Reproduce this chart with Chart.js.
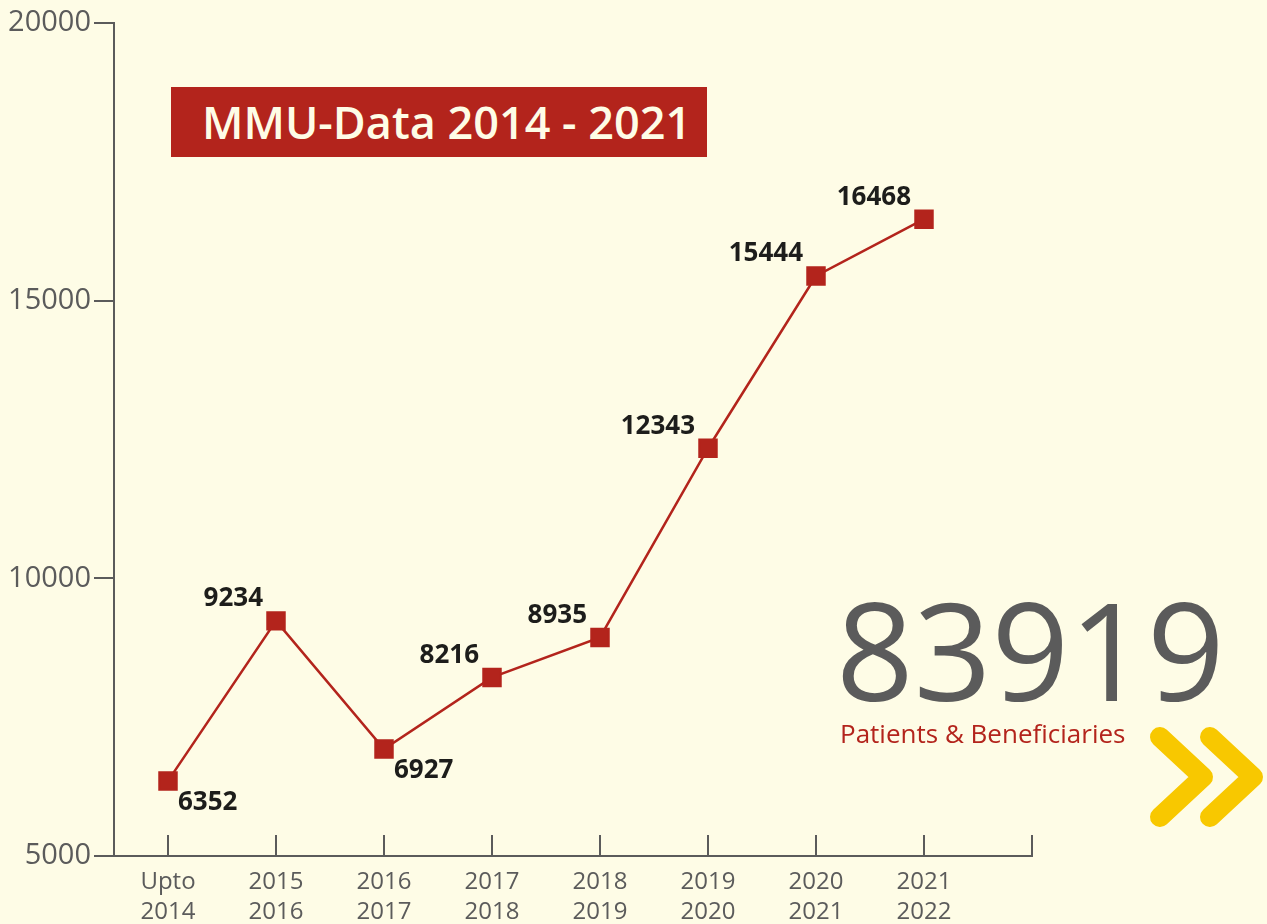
<!DOCTYPE html>
<html>
<head>
<meta charset="utf-8">
<script src="https://cdn.jsdelivr.net/npm/chart.js@4.4.0/dist/chart.umd.min.js"></script>
<style>
  body { margin: 0; background: #fefce6; }
  #wrap { position: relative; width: 1267px; height: 924px; background: #fefce6; overflow: hidden; }
  #title {
    position: absolute; left: 171px; top: 87px; width: 505px; height: 70px;
    padding-left: 31px; background: #b3241c; color: #fefce6;
    font: 600 45px "Open Sans", sans-serif; line-height: 70px; white-space: nowrap;
  }
  #total {
    position: absolute; left: 836px; top: 581px;
    font: 400 136px "Open Sans", sans-serif; line-height: 1; color: #5b5b5b;
  }
  #sub {
    position: absolute; left: 840px; top: 720px;
    font: 400 26px "Open Sans", sans-serif; line-height: 1; color: #b3241c; white-space: nowrap;
  }
</style>
</head>
<body>
<div id="wrap">
  <canvas id="chart"></canvas>
  <div id="title">MMU-Data 2014 - 2021</div>
  <div id="total">83919</div>
  <div id="sub">Patients &amp; Beneficiaries</div>
</div>
<script>
const periods = [["Upto", "2014"], ["2015", "2016"], ["2016", "2017"], ["2017", "2018"],
                 ["2018", "2019"], ["2019", "2020"], ["2020", "2021"], ["2021", "2022"]];
const patients = [6352, 9234, 6927, 8216, 8935, 12343, 15444, 16468];
const yTicks = [5000, 10000, 15000, 20000];

const RED = "#b3241c";
const GREY = "#5b5b5b";

// value labels next to the squares (two go below the point)
const valueLabels = {
  id: "valueLabels",
  afterDatasetsDraw(chart) {
    const ctx = chart.ctx;
    const meta = chart.getDatasetMeta(0);
    const below = [0, 2];
    ctx.save();
    ctx.font = "bold 26px 'Open Sans', sans-serif";
    ctx.fillStyle = "#1d1d1b";
    ctx.textBaseline = "middle";
    meta.data.forEach((pt, i) => {
      if (below.includes(i)) {
        ctx.textAlign = "left";
        ctx.fillText(patients[i], pt.x + 10, pt.y + 22);
      } else {
        ctx.textAlign = "right";
        ctx.fillText(patients[i], pt.x - 13, pt.y - 22);
      }
    });
    ctx.restore();
  }
};

// short tick marks pointing up into the plot, plus the chevrons
const extras = {
  id: "extras",
  afterDraw(chart) {
    const ctx = chart.ctx;
    const x = chart.scales.x;
    const bottom = chart.chartArea.bottom;
    ctx.save();
    ctx.strokeStyle = GREY;
    ctx.lineWidth = 2;
    for (let v = 0; v <= periods.length; v++) {
      const px = Math.round(x.getPixelForValue(v));
      ctx.beginPath();
      ctx.moveTo(px, bottom);
      ctx.lineTo(px, bottom - 21);
      ctx.stroke();
    }
    ctx.strokeStyle = "#f8c800";
    ctx.lineWidth = 20;
    ctx.lineCap = "round";
    ctx.lineJoin = "round";
    [0, 50].forEach(dx => {
      ctx.beginPath();
      ctx.moveTo(1160 + dx, 737);
      ctx.lineTo(1203 + dx, 777);
      ctx.lineTo(1160 + dx, 817);
      ctx.stroke();
    });
    ctx.restore();
  }
};

new Chart(document.getElementById("chart"), {
  type: "line",
  data: {
    datasets: [{
      data: patients.map((v, i) => ({ x: i, y: v })),
      borderColor: RED,
      backgroundColor: RED,
      borderWidth: 2.5,
      pointStyle: "rect",
      pointRadius: 12,
      pointHoverRadius: 12,
      tension: 0
    }]
  },
  options: {
    responsive: true,
    maintainAspectRatio: false,
    animation: false,
    events: [],
    layout: { padding: { top: 23, right: 235, left: 0, bottom: 0 } },
    plugins: { legend: { display: false }, tooltip: { enabled: false } },
    scales: {
      x: {
        type: "linear",
        min: -0.5,
        max: periods.length,
        afterBuildTicks: s => { s.ticks = periods.map((p, i) => ({ value: i })); },
        afterFit: s => { s.height = 68; },
        grid: { display: false, drawTicks: false },
        border: { display: true, color: GREY, width: 2 },
        ticks: {
          autoSkip: false,
          maxRotation: 0,
          padding: 11,
          color: GREY,
          font: { family: "'Open Sans', sans-serif", size: 24, lineHeight: 1.25 },
          callback: v => periods[v] || ""
        }
      },
      y: {
        min: 5000,
        max: 20000,
        afterBuildTicks: s => { s.ticks = yTicks.map(v => ({ value: v })); },
        afterFit: s => { s.width = 114; },
        grid: { drawOnChartArea: false, drawTicks: true, tickLength: 20, color: GREY, lineWidth: 2 },
        border: { display: true, color: GREY, width: 2 },
        ticks: {
          padding: 3,
          color: GREY,
          font: { family: "'Open Sans', sans-serif", size: 29 },
          callback: v => String(v)
        }
      }
    }
  },
  plugins: [valueLabels, extras]
});
</script>
</body>
</html>
